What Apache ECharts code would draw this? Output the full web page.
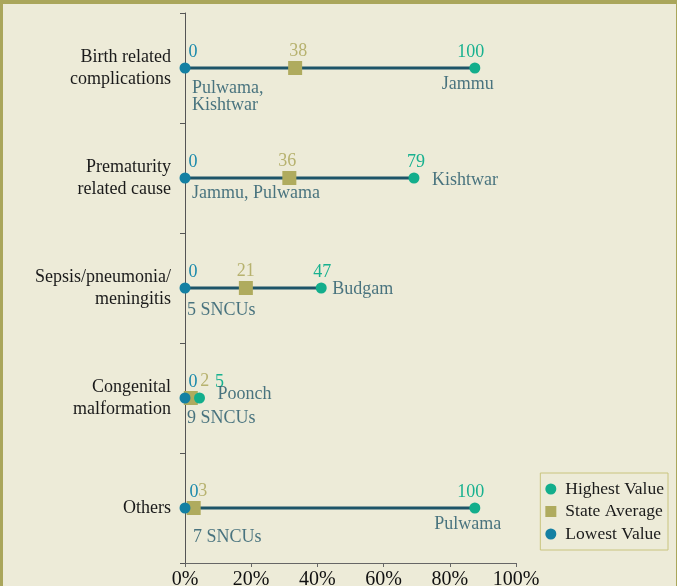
<!DOCTYPE html>
<html>
<head>
<meta charset="utf-8">
<script src="https://cdn.jsdelivr.net/npm/echarts@6/dist/echarts.min.js"></script>
<style>
  html, body { margin: 0; padding: 0; background: #edebd8; }
  #frame {
    position: absolute; left: 0; top: 0; width: 677px; height: 586px;
    box-sizing: border-box; background: #edebd8;
    border-top: 4px solid #aaa65b; border-left: 3px solid #aaa65b; border-right: 1px solid #aaa65b;
  }
  #root { position: absolute; left: 0; top: 0; width: 677px; height: 586px; }
</style>
</head>
<body>
<div id="frame"></div>
<div id="root"></div>
<script>
// data
const categories = ['Birth related\ncomplications', 'Prematurity\nrelated cause', 'Sepsis/pneumonia/\nmeningitis', 'Congenital\nmalformation', 'Others']
const highest = [100, 79, 47, 5, 100]
const average = [38, 36, 21, 2, 3]
const lowest = [0, 0, 0, 0, 0]
const highestPlace = ['Jammu', 'Kishtwar', 'Budgam', 'Poonch', 'Pulwama']
const lowestPlace = ['Pulwama,\nKishtwar', 'Jammu, Pulwama', '5 SNCUs', '9 SNCUs', '7 SNCUs']
const xTickLabels = ['0%', '20%', '40%', '60%', '80%', '100%']

// the source axis puts 100 at ~87.6% of its length
const xMax = 114.2

const FONT = 'Liberation Serif'
const cHigh = '#13ae8c'
const cAvg = '#afab5e'
const cLow = '#1480a3'
const cLine = '#1d5468'
const cNote = '#1f5568'

// label nudges (px) where the numbers would collide
const lowNum = [[8, 0], [8, 0], [8, 0], [8, 0], [9, 0]]
const avgNum = [[3, 0], [-2, 0], [0, 0], [14, 0], [9, 0]]
const highNum = [[-4, 0], [2, 0], [1, 0], [20, 0], [-4, 0]]
const lowNote = [[7, 29], [7, 15], [2, 22], [2, 20], [8, 29]]
const highNote = [[-7, 16, 'center'], [18, 2, 'left'], [11, 1, 'left'], [18, -4, 'left'], [-7, 16, 'center']]

const chart = echarts.init(document.getElementById('root'), null, { renderer: 'canvas' })

function numSeries (name, vals, color, symbol, size, nudge) {
  return {
    name: name,
    type: 'scatter',
    symbol: symbol,
    symbolSize: size,
    itemStyle: { color: color, opacity: 1 },
    z: 3,
    data: vals.map((v, i) => ({
      value: [v, i],
      label: {
        show: true,
        position: 'top',
        distance: 1,
        offset: nudge[i],
        formatter: String(v),
        color: color === cAvg ? '#b7b26f' : (color === cLow ? '#1a89ab' : '#17b18f'),
        fontFamily: FONT,
        fontSize: 18
      }
    }))
  }
}

function noteSeries (vals, places, shift, color) {
  return {
    type: 'scatter',
    symbolSize: 0,
    silent: true,
    z: 4,
    data: vals.map((v, i) => ({
      value: [v, i],
      label: {
        show: true,
        position: [shift[i][0], shift[i][1]],
        align: shift[i][2] || 'left',
        verticalAlign: 'middle',
        formatter: places[i],
        color: color,
        fontFamily: FONT,
        fontSize: 18,
        lineHeight: 17
      }
    }))
  }
}

const option = {
  backgroundColor: 'transparent',
  animation: false,
  grid: { left: 185, right: 161, top: 13, bottom: 23, outerBoundsMode: 'none', containLabel: false },
  xAxis: {
    type: 'value',
    min: 0,
    max: xMax,
    interval: xMax / 5,
    splitLine: { show: false },
    axisLine: { show: true, lineStyle: { color: '#666', width: 1 } },
    axisTick: { show: true, length: 4, lineStyle: { color: '#666' } },
    axisLabel: {
      margin: 7,
      fontFamily: FONT,
      fontSize: 20,
      color: '#111',
      formatter: (v, i) => xTickLabels[i]
    }
  },
  yAxis: {
    type: 'category',
    inverse: true,
    data: categories,
    axisLine: { show: true, lineStyle: { color: '#555', width: 1 } },
    axisTick: { show: true, length: 5, lineStyle: { color: '#555' } },
    axisLabel: {
      margin: 14,
      fontFamily: FONT,
      fontSize: 18,
      lineHeight: 22,
      color: '#1a1a1a',
      align: 'right'
    }
  },
  legend: {
    orient: 'vertical',
    right: 9,
    top: 473,
    padding: [5, 4, 5, 5],
    itemGap: 0.5,
    itemWidth: 11,
    itemHeight: 11,
    borderColor: '#c9c47e',
    borderWidth: 1,
    textStyle: { fontFamily: FONT, fontSize: 17.5, color: '#1a1a1a', lineHeight: 22, padding: [0, 0, 0, 4] },
    data: [
      { name: 'Highest Value', icon: 'circle' },
      { name: 'State Average', icon: 'rect' },
      { name: 'Lowest Value', icon: 'circle' }
    ]
  },
  series: [
    {
      type: 'custom',
      silent: true,
      z: 2,
      renderItem: function (params, api) {
        const a = api.coord([api.value(0), api.value(2)])
        const b = api.coord([api.value(1), api.value(2)])
        return {
          type: 'line',
          shape: { x1: a[0], y1: a[1], x2: b[0], y2: b[1] },
          style: { stroke: cLine, lineWidth: 3 }
        }
      },
      encode: { x: [0, 1], y: 2 },
      data: lowest.map((v, i) => [v, highest[i], i])
    },
    numSeries('State Average', average, cAvg, 'rect', 14, avgNum),
    numSeries('Highest Value', highest, cHigh, 'circle', 11, highNum),
    numSeries('Lowest Value', lowest, cLow, 'circle', 11, lowNum),
    noteSeries(highest, highestPlace, highNote, cNote),
    noteSeries(lowest, lowestPlace, lowNote, cNote)
  ]
}

chart.setOption(option)
</script>
</body>
</html>
